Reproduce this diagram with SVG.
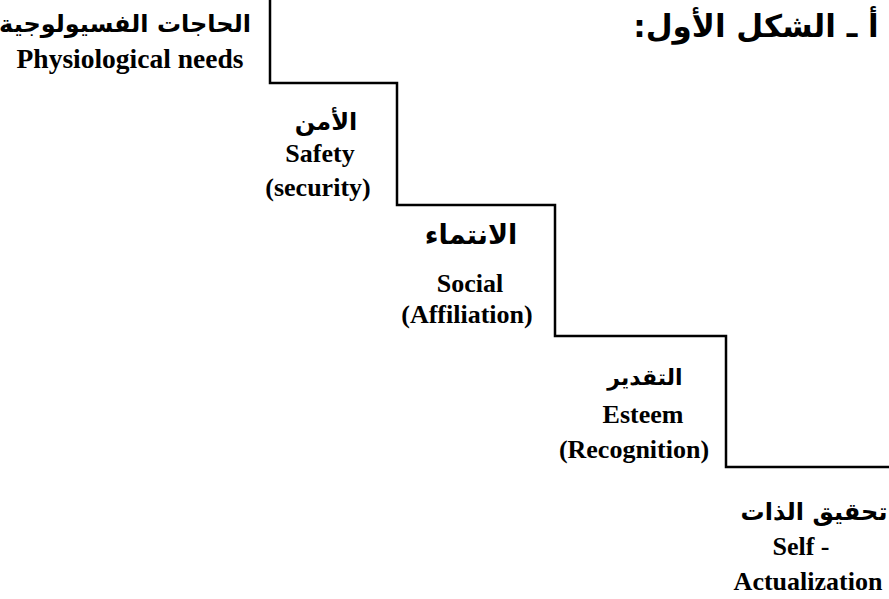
<svg xmlns="http://www.w3.org/2000/svg" width="889" height="599" viewBox="0 0 889 599">
<style>
.en{font-family:"Liberation Serif","Times New Roman",serif;font-weight:bold;font-size:26px;fill:#000;text-anchor:middle}
.ar{font-family:"DejaVu Sans",sans-serif;font-weight:bold;font-size:24px;fill:#000;text-anchor:middle}
.title{font-size:31px}
.step{fill:none;stroke:#000;stroke-width:2.5;stroke-linejoin:miter}
</style>
<rect width="889" height="599" fill="#fff"/>
<g id="connectors"><path class="step" d="M270,0 V83 H397 V205 H555 V336 H726 V467 H889"/></g>
<g id="title"><text class="ar title" x="756" y="37" direction="rtl">أ ـ الشكل الأول:</text></g>
<g id="physiological"><text class="ar" x="125" y="32" direction="rtl">الحاجات الفسيولوجية</text><text class="en" x="130" y="68" style="font-size:27.5px">Physiological needs</text></g>
<g id="safety"><text class="ar" x="326" y="130" direction="rtl">الأمن</text><text class="en" x="320" y="162">Safety</text><text class="en" x="318" y="196">(security)</text></g>
<g id="social"><text class="ar" x="471" y="244" direction="rtl" style="font-size:27px">الانتماء</text><text class="en" x="470" y="292">Social</text><text class="en" x="467" y="323">(Affiliation)</text></g>
<g id="esteem"><text class="ar" x="645" y="385" direction="rtl" style="font-size:22px">التقدير</text><text class="en" x="643" y="423">Esteem</text><text class="en" x="634" y="458">(Recognition)</text></g>
<g id="self-actualization"><text class="ar" x="814" y="520" direction="rtl">تحقيق الذات</text><text class="en" x="801" y="555">Self -</text><text class="en" x="808" y="590">Actualization</text></g>
</svg>
